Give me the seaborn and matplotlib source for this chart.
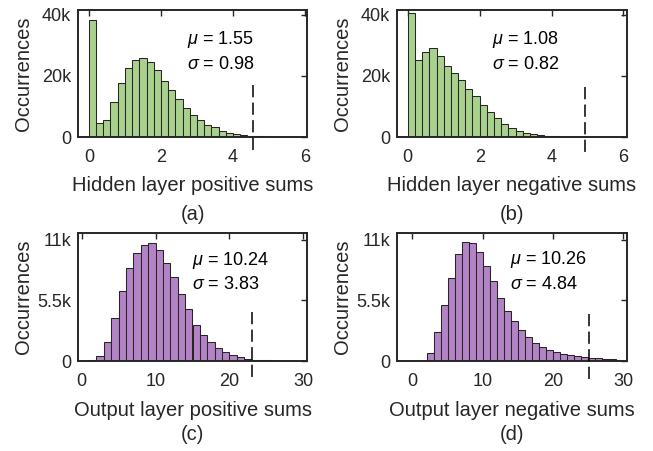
import numpy as np
import pandas as pd
import matplotlib
matplotlib.use("Agg")
import matplotlib.pyplot as plt
import seaborn as sns

# ---------------- data (counts in thousands) ----------------
edges_hidden = [round(0.2 * k, 2) for k in range(31)]
edges_output = list(range(31))

counts_a = [38.4, 4.6, 5.7, 11.6, 17.7, 22.6, 25.1, 25.9, 24.6, 21.8,
            18.4, 15.3, 12.6, 9.6, 7.3, 5.7, 4.0, 3.2, 2.1, 1.4,
            1.0, 0.7, 0.45, 0.3, 0.2, 0.12, 0.08, 0.05, 0.03, 0.02]
counts_b = [40.6, 25.3, 28.0, 29.1, 26.5, 23.3, 20.8, 18.6, 15.6, 13.3,
            10.6, 8.3, 6.3, 4.4, 3.1, 2.0, 1.4, 0.9, 0.55, 0.35,
            0.2, 0.12, 0.07, 0.04, 0.02, 0.01, 0.0, 0.0, 0.0, 0.0]
counts_c = [0.02, 0.05, 0.42, 1.7, 3.9, 6.3, 8.4, 9.8, 10.5, 10.7,
            10.1, 8.9, 7.6, 6.1, 4.7, 3.3, 2.4, 1.7, 1.2, 0.8,
            0.5, 0.36, 0.2, 0.12, 0.08, 0.05, 0.03, 0.02, 0.01, 0.01]
counts_d = [0.0, 0.01, 0.76, 2.6, 5.1, 7.55, 9.7, 10.8, 10.7, 9.9,
            8.6, 7.25, 5.7, 4.55, 3.67, 2.8, 2.14, 1.65, 1.28, 0.98,
            0.83, 0.67, 0.58, 0.46, 0.37, 0.3, 0.25, 0.18, 0.15, 0.1]

means = [1.55, 1.08, 10.24, 10.26]
stds = [0.98, 0.82, 3.83, 4.84]
thresholds = [4.55, 4.94, 23.0, 25.1]
xlabels = ["Hidden layer positive sums", "Hidden layer negative sums",
           "Output layer positive sums", "Output layer negative sums"]
captions = ["(a)", "(b)", "(c)", "(d)"]
xticks_hidden = [0, 2, 4, 6]
xticks_output = [0, 10, 20, 30]
yticks_hidden = [0, 20000, 40000]
ytick_labels_hidden = ["0", "20k", "40k"]
yticks_output = [0, 5500, 11000]
ytick_labels_output = ["0", "5.5k", "11k"]

# ---------------- style ----------------
sns.set_theme(style="white")
plt.rcParams["font.family"] = ["Liberation Sans", "DejaVu Sans"]
plt.rcParams["mathtext.fontset"] = "custom"
plt.rcParams["mathtext.rm"] = "Liberation Sans"
plt.rcParams["mathtext.it"] = "Liberation Sans:italic"

green = "#a9d18e"
purple = "#b383c6"
edge = "#262626"

W, H = 653, 451
fig = plt.figure(figsize=(W / 100, H / 100), dpi=100)


def px_axes(left, top, right, bottom):
    return fig.add_axes([left / W, (H - bottom) / H, (right - left) / W, (bottom - top) / H])


axes = [px_axes(78, 10, 307, 137), px_axes(397, 10, 627, 137),
        px_axes(78, 233, 307, 361), px_axes(397, 233, 627, 361)]

panels = [
    (edges_hidden, counts_a, green, (-0.3, 6.05), (0, 41600), xticks_hidden, yticks_hidden, ytick_labels_hidden, 17000, -4800, (0.476, 0.764, 0.567)),
    (edges_hidden, counts_b, green, (-0.3, 6.1), (0, 41600), xticks_hidden, yticks_hidden, ytick_labels_hidden, 16500, -5600, (0.412, 0.764, 0.567)),
    (edges_output, counts_c, purple, (-0.5, 30.5), (0, 11600), xticks_output, yticks_output, ytick_labels_output, 4400, -1600, (0.497, 0.789, 0.594)),
    (edges_output, counts_d, purple, (-2.2, 30.5), (0, 11600), xticks_output, yticks_output, ytick_labels_output, 4300, -1600, (0.491, 0.795, 0.594)),
]

for i, (ax, p) in enumerate(zip(axes, panels)):
    edges, counts, color, xlim, ylim, xt, yt, ytl, ltop, lbot, tpos = p
    e = np.asarray(edges, dtype=float)
    centers = (e[:-1] + e[1:]) / 2
    df = pd.DataFrame({"value": centers, "count": np.asarray(counts) * 1000})
    sns.histplot(data=df, x="value", weights="count", bins=list(edges), ax=ax,
                 color=color, alpha=1.0, edgecolor=edge, linewidth=0.75)
    ax.set_xlim(*xlim)
    ax.set_ylim(*ylim)
    ax.set_xticks(xt)
    ax.set_yticks(yt)
    ax.set_yticklabels(ytl)
    ax.set_ylabel("Occurrences", fontsize=14.5, va="center")
    ax.yaxis.set_label_coords(-0.236, 0.5)
    ax.set_xlabel(xlabels[i], fontsize=14.5, va="center")
    ax.xaxis.set_label_coords(0.5, -0.378 if i < 2 else -0.383)
    ax.text(0.5, -0.614 if i < 2 else -0.578, captions[i], transform=ax.transAxes,
            ha="center", va="center", fontsize=14.5, color="#262626")
    ax.tick_params(axis="both", direction="in", length=4, width=1.0, labelsize=13,
                   top=True, right=True, colors="#262626")
    ax.tick_params(axis="x", pad=9)
    ax.tick_params(axis="y", pad=5)
    for s in ax.spines.values():
        s.set_linewidth(1.4)
        s.set_color("#262626")
    ax.plot([thresholds[i], thresholds[i]], [ltop, lbot], color="black", lw=1.1,
            ls=(0, (8, 3.5)), clip_on=False, zorder=5)
    tx, ty1, ty2 = tpos
    ax.text(tx, ty1, r"$\mu$ = %.2f" % means[i], transform=ax.transAxes,
            ha="left", va="center", fontsize=13, color="black")
    ax.text(tx, ty2, r"$\sigma$ = %.2f" % stds[i], transform=ax.transAxes,
            ha="left", va="center", fontsize=13, color="black")

fig.savefig("out.png", dpi=100)
